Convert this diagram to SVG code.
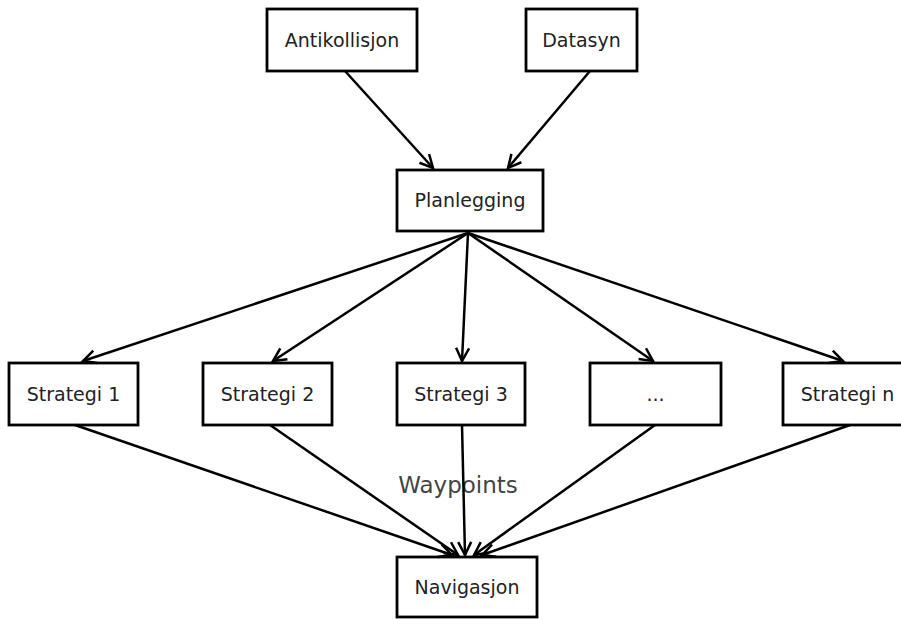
<svg xmlns="http://www.w3.org/2000/svg" width="901" height="619" viewBox="0 0 901 619">
<style>
.box{fill:#fff;stroke:#000;stroke-width:2.8}
.lbl{font-family:"DejaVu Sans",sans-serif;font-size:19px;fill:#222;text-anchor:middle}
.edge{fill:none;stroke:#000;stroke-width:2.5;marker-end:url(#arr)}
.elbl{font-family:"DejaVu Sans",sans-serif;font-size:23px;fill:#444;text-anchor:middle}
</style>
<defs>
<marker id="arr" markerUnits="userSpaceOnUse" markerWidth="20" markerHeight="20" refX="0" refY="0" viewBox="-14 -10 16 20" orient="auto" overflow="visible">
<path d="M-13,-6.5 L0,0 L-13,6.5" fill="none" stroke="#000" stroke-width="2.5"/>
</marker>
</defs>
<rect width="901" height="619" fill="#fff"/>
<g id="n-antikollisjon"><rect class="box" x="267" y="9" width="150" height="62"/><text class="lbl" x="342" y="47">Antikollisjon</text></g>
<g id="n-datasyn"><rect class="box" x="526" y="9" width="111" height="62"/><text class="lbl" x="581.5" y="47">Datasyn</text></g>
<g id="n-planlegging"><rect class="box" x="397" y="170" width="146" height="61"/><text class="lbl" x="470" y="207">Planlegging</text></g>
<g id="n-s1"><rect class="box" x="9" y="363" width="129" height="62"/><text class="lbl" x="73.5" y="401">Strategi 1</text></g>
<g id="n-s2"><rect class="box" x="203" y="363" width="129" height="62"/><text class="lbl" x="267.5" y="401">Strategi 2</text></g>
<g id="n-s3"><rect class="box" x="397" y="363" width="128" height="62"/><text class="lbl" x="461" y="401">Strategi 3</text></g>
<g id="n-dots"><rect class="box" x="590" y="363" width="131" height="62"/><text class="lbl" x="655.5" y="401">...</text></g>
<g id="n-sn"><rect class="box" x="783" y="363" width="129" height="62"/><text class="lbl" x="847.5" y="401">Strategi n</text></g>
<g id="n-navigasjon"><rect class="box" x="397" y="557" width="140" height="60"/><text class="lbl" x="467" y="594">Navigasjon</text></g>
<g id="connectors">
<text class="elbl" x="458" y="493">Waypoints</text>
<line class="edge" x1="345" y1="71" x2="433" y2="168"/>
<line class="edge" x1="590" y1="71" x2="508" y2="168"/>
<line class="edge" x1="468" y1="233" x2="83" y2="361"/>
<line class="edge" x1="468" y1="233" x2="273" y2="361"/>
<line class="edge" x1="468" y1="233" x2="462" y2="361"/>
<line class="edge" x1="468" y1="233" x2="653" y2="361"/>
<line class="edge" x1="468" y1="233" x2="843" y2="361"/>
<line class="edge" x1="75" y1="425" x2="452" y2="555"/>
<line class="edge" x1="270" y1="425" x2="458" y2="555"/>
<line class="edge" x1="462" y1="425" x2="465" y2="555"/>
<line class="edge" x1="655" y1="425" x2="474" y2="555"/>
<line class="edge" x1="850" y1="425" x2="482" y2="555"/>
</g>
</svg>
